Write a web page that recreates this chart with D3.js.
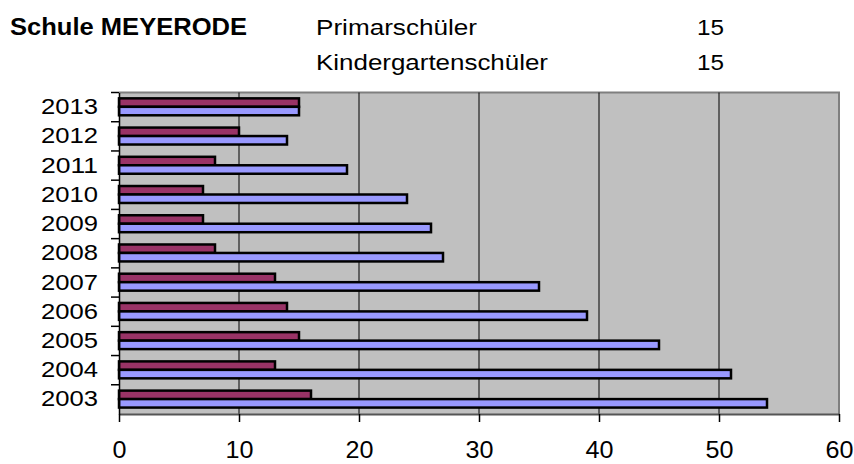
<!DOCTYPE html>
<html>
<head>
<meta charset="utf-8">
<script src="https://cdn.jsdelivr.net/npm/d3@7"></script>
<style>
  html, body { margin: 0; padding: 0; background: #ffffff; }
  svg { display: block; font-family: "Liberation Sans", Arial, Helvetica, sans-serif; }
</style>
</head>
<body>
<svg id="chart" width="854" height="464"></svg>
<script>
// ---- data ----
const years = ["2013","2012","2011","2010","2009","2008","2007","2006","2005","2004","2003"];
const primarschueler = [15, 14, 19, 24, 26, 27, 35, 39, 45, 51, 54];
const kindergarten   = [15, 10, 8, 7, 7, 8, 13, 14, 15, 13, 16];
const xTicks = [0, 10, 20, 30, 40, 50, 60];
const title = "Schule MEYERODE";
const legendNames = ["Primarschüler", "Kindergartenschüler"];
const legendValues = [15, 15];

// ---- layout ----
const svg = d3.select("#chart");
const pLeft = 119, pRight = 839, pTop = 92.5, pBottom = 414;

const x = d3.scaleLinear().domain([0, 60]).range([pLeft, pRight]);
const y = d3.scaleBand().domain(years).range([pTop, pBottom]).paddingInner(0).paddingOuter(0);
const bw = y.bandwidth();

// plot background
svg.append("rect")
  .attr("x", pLeft).attr("y", pTop)
  .attr("width", pRight - pLeft).attr("height", pBottom - pTop)
  .attr("fill", "#c0c0c0");

// top & right border
svg.append("path")
  .attr("d", `M${pLeft},${pTop}H${pRight}V${pBottom}`)
  .attr("fill", "none").attr("stroke", "#7f7f7f").attr("stroke-width", 2);

// gridlines
svg.append("g").selectAll("line")
  .data(xTicks.filter(t => t > 0 && t < 60))
  .join("line")
  .attr("x1", d => x(d)).attr("x2", d => x(d))
  .attr("y1", pTop).attr("y2", pBottom)
  .attr("stroke", "#000").attr("stroke-width", 1);

// bars
const rows = years.map((yr, i) => ({ yr, p: primarschueler[i], k: kindergarten[i] }));
const g = svg.append("g");
g.selectAll("rect.k").data(rows).join("rect")
  .attr("class", "k")
  .attr("x", x(0))
  .attr("y", d => y(d.yr) + bw * 0.2)
  .attr("width", d => x(d.k) - x(0))
  .attr("height", bw * 0.29)
  .attr("fill", "#993366").attr("stroke", "#000").attr("stroke-width", 2.5);
g.selectAll("rect.p").data(rows).join("rect")
  .attr("class", "p")
  .attr("x", x(0))
  .attr("y", d => y(d.yr) + bw * 0.49)
  .attr("width", d => x(d.p) - x(0))
  .attr("height", bw * 0.29)
  .attr("fill", "#9999ff").attr("stroke", "#000").attr("stroke-width", 2.5);

// x axis
const xAxis = svg.append("g")
  .attr("transform", `translate(0,${pBottom})`)
  .call(d3.axisBottom(x).tickValues(xTicks).tickSize(8).tickPadding(20).tickSizeOuter(0));
xAxis.select(".domain").attr("stroke", "#555").attr("stroke-width", 2);
xAxis.selectAll(".tick line").attr("stroke", "#000").attr("stroke-width", 1.5);
xAxis.selectAll(".tick text")
  .attr("font-size", 23).attr("fill", "#000")
  .attr("font-family", "Liberation Sans, Arial, sans-serif")
  .attr("textLength", d => String(d).length * 14)
  .attr("lengthAdjust", "spacingAndGlyphs");

// y axis
const yAxis = svg.append("g")
  .attr("transform", `translate(${pLeft},0)`)
  .call(d3.axisLeft(y).tickSize(0).tickPadding(21));
yAxis.select(".domain").attr("stroke", "#000").attr("stroke-width", 1.5);
yAxis.selectAll(".tick text")
  .attr("font-size", 22).attr("fill", "#000")
  .attr("font-family", "Liberation Sans, Arial, sans-serif")
  .attr("textLength", 57)
  .attr("lengthAdjust", "spacingAndGlyphs");
// band-boundary ticks
yAxis.append("g").selectAll("line")
  .data(years)
  .join("line")
  .attr("x1", -8).attr("x2", 0)
  .attr("y1", d => y(d)).attr("y2", d => y(d))
  .attr("stroke", "#000").attr("stroke-width", 1.5);

// title & legend
svg.append("text")
  .attr("x", 10).attr("y", 35)
  .attr("font-size", 23).attr("font-weight", "bold").attr("fill", "#000")
  .attr("textLength", 237).attr("lengthAdjust", "spacingAndGlyphs")
  .text(title);

const legendWidths = [161, 232];
const leg = svg.append("g");
leg.selectAll("text.name").data(legendNames).join("text")
  .attr("class", "name")
  .attr("x", 316).attr("y", (d, i) => 35 + i * 35)
  .attr("font-size", 22).attr("fill", "#000")
  .attr("textLength", (d, i) => legendWidths[i]).attr("lengthAdjust", "spacingAndGlyphs")
  .text(d => d);
leg.selectAll("text.val").data(legendValues).join("text")
  .attr("class", "val")
  .attr("x", 697).attr("y", (d, i) => 35 + i * 35)
  .attr("font-size", 22).attr("fill", "#000")
  .attr("textLength", 27).attr("lengthAdjust", "spacingAndGlyphs")
  .text(d => d);
</script>
</body>
</html>
